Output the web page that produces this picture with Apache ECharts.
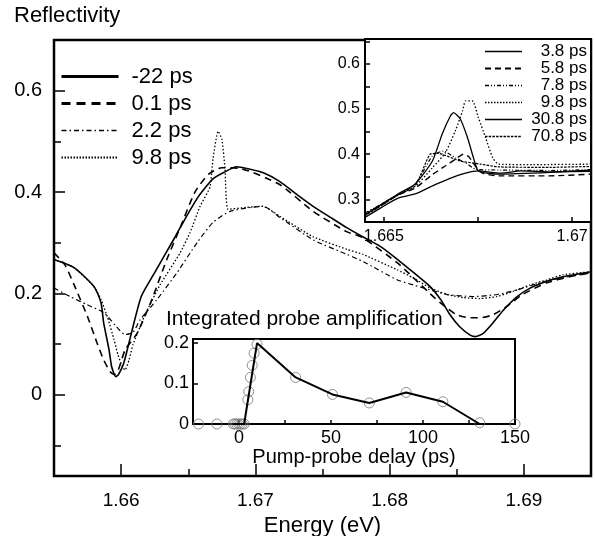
<!DOCTYPE html>
<html><head><meta charset="utf-8">
<script src="https://cdn.jsdelivr.net/npm/echarts@6/dist/echarts.min.js"></script>
<style>html,body{margin:0;padding:0;background:#fff}#c{width:595px;height:536px}</style>
</head><body><div id="c"></div>
<script>
// ---------- main panel: reflectivity spectra ----------
const energyM22 = [1.655,1.6565,1.658,1.6585,1.6587,1.6591,1.6593,1.6596,1.6598,1.6602,1.6607,1.6615,1.6625,1.6639,1.6644,1.6657,1.6668,1.6676,1.6686,1.6696,1.6706,1.6718,1.6731,1.6743,1.6756,1.6768,1.678,1.6793,1.6806,1.6817,1.683,1.6838,1.6845,1.6852,1.686,1.6864,1.687,1.6877,1.6885,1.6895,1.6905,1.6917,1.6929,1.695];
const reflM22   = [0.267,0.251,0.213,0.182,0.142,0.089,0.055,0.036,0.04,0.063,0.115,0.194,0.241,0.306,0.33,0.389,0.425,0.438,0.45,0.445,0.438,0.421,0.395,0.372,0.35,0.33,0.312,0.293,0.267,0.243,0.214,0.188,0.158,0.135,0.118,0.115,0.122,0.142,0.168,0.194,0.211,0.224,0.233,0.243];

const energy01 = [1.655,1.6558,1.6565,1.6575,1.6582,1.6587,1.6592,1.6595,1.6598,1.6603,1.6612,1.6622,1.6634,1.6644,1.6655,1.6665,1.6675,1.6688,1.6718,1.6743,1.6768,1.678,1.6806,1.6817,1.683,1.6838,1.685,1.686,1.6867,1.6877,1.6887,1.6899,1.6917,1.6934,1.695];
const refl01   = [0.28,0.257,0.217,0.154,0.103,0.069,0.045,0.04,0.05,0.089,0.122,0.182,0.267,0.33,0.40,0.435,0.448,0.447,0.415,0.362,0.322,0.31,0.26,0.233,0.2,0.181,0.158,0.152,0.152,0.158,0.174,0.198,0.221,0.233,0.241];

const energy22 = [1.655,1.65619,1.65746,1.65872,1.65954,1.66029,1.66088,1.66141,1.66267,1.66416,1.66565,1.66684,1.66811,1.67057,1.67183,1.67429,1.67683,1.67802,1.68055,1.68174,1.68301,1.68428,1.68621,1.688,1.68949,1.69172,1.695];
const refl22   = [0.211,0.194,0.178,0.162,0.138,0.119,0.123,0.148,0.188,0.241,0.30,0.34,0.362,0.372,0.35,0.306,0.277,0.263,0.227,0.217,0.207,0.198,0.194,0.198,0.207,0.225,0.241];

const energy98 = [1.655,1.6565,1.658,1.6585,1.659,1.65947,1.65977,1.66007,1.66029,1.66059,1.66088,1.66178,1.6629,1.66439,1.66513,1.66588,1.66662,1.66684,1.66722,1.66751,1.66774,1.66796,1.66938,1.67057,1.67183,1.67429,1.67683,1.67802,1.68055,1.68174,1.68301,1.68428,1.68547,1.68673,1.688,1.68919,1.69046,1.69172,1.69292,1.695];
const refl98   = [0.267,0.251,0.213,0.188,0.152,0.109,0.079,0.057,0.049,0.069,0.099,0.158,0.217,0.28,0.32,0.372,0.41,0.465,0.52,0.504,0.445,0.366,0.37,0.372,0.352,0.312,0.287,0.277,0.247,0.231,0.211,0.198,0.192,0.19,0.194,0.204,0.217,0.227,0.237,0.243];

// ---------- upper inset: spectra around the gain peak ----------
const insE38 = [1.6645,1.66495,1.66538,1.66583,1.66629,1.66671,1.66717,1.66751,1.6681,1.66863,1.66943,1.6705];
const insR38 = [0.26,0.283,0.303,0.312,0.33,0.345,0.358,0.363,0.358,0.363,0.361,0.362];
const insE58 = [1.6645,1.66495,1.66538,1.66583,1.66629,1.66663,1.6669,1.66711,1.66725,1.66743,1.66762,1.66805,1.66938,1.6705];
const insR58 = [0.265,0.288,0.31,0.325,0.355,0.374,0.389,0.4,0.395,0.374,0.358,0.352,0.352,0.356];
const insE78 = [1.6645,1.66495,1.66538,1.66583,1.66629,1.66658,1.6669,1.66717,1.66743,1.6681,1.66943,1.6705];
const insR78 = [0.27,0.29,0.312,0.333,0.396,0.407,0.392,0.381,0.367,0.365,0.364,0.366];
const insE98 = [1.6645,1.66495,1.66538,1.66583,1.66629,1.66663,1.6669,1.66709,1.66717,1.66735,1.66751,1.6677,1.66789,1.66805,1.66895,1.6705];
const insR98 = [0.268,0.29,0.31,0.329,0.37,0.403,0.452,0.496,0.518,0.518,0.481,0.437,0.392,0.378,0.377,0.378];
const insE308 = [1.6645,1.66495,1.66538,1.66583,1.66629,1.66655,1.66677,1.66685,1.66703,1.66722,1.66738,1.66751,1.66805,1.66943,1.6705];
const insR308 = [0.266,0.29,0.312,0.334,0.385,0.445,0.485,0.492,0.478,0.437,0.392,0.363,0.356,0.36,0.365];
const insE708 = [1.6645,1.66495,1.66538,1.66583,1.66623,1.66642,1.66703,1.66757,1.66805,1.66943,1.6705];
const insR708 = [0.264,0.287,0.31,0.33,0.4,0.402,0.385,0.378,0.372,0.371,0.373];

// ---------- lower inset: integrated probe amplification ----------
const delayCircles = [-22,-12,-3.2,-2.2,-1.2,-0.2,0.8,1.8,2.8,4.8,5.3,6.2,7.2,8.2,9.8,30.8,50.8,70.8,90.8,110.8,130.8,150];
const ampCircles   = [0,0,0,0,0,0,0,0,0,0.06,0.08,0.115,0.145,0.175,0.197,0.115,0.073,0.052,0.078,0.055,0.003,0];
const delayLine = [-3.2,-2.2,-1.2,-0.2,0.8,1.8,2.8,3.8,9.8,30.8,50.8,70.8,90.8,110.8,130.8];
const ampLine   = [0,0,0,0,0,0,0,0,0.2,0.115,0.073,0.052,0.078,0.055,0];

// ---------- tick values ----------
const mainXMajor = [1.66,1.67,1.68,1.69];
const mainXMinor = [1.665,1.675,1.685];
const mainYMajor = [0,0.2,0.4,0.6];
const mainYMinor = [-0.1,0.1,0.3,0.5];
const insXTicks  = [1.665,1.6675,1.67];
const insXLabels = [1.665,1.67];

const zip = (a,b) => a.map((v,i)=>[v,b[i]]);
const FONT = "'Liberation Sans', Arial, Helvetica, sans-serif";
const K = '#000';

const chart = echarts.init(document.getElementById('c'), null, {renderer:'canvas'});

const tick = (len, extra) => Object.assign({show:true, inside:true, length:len, lineStyle:{color:K, width:1.5}}, extra||{});
const noLine = {show:false, onZero:false};
const hideSym = {opacity:0, color:'rgba(0,0,0,0)', borderWidth:0};
const lineSeries = (name, xi, yi, zl, x, y, w, type, smooth) => ({
  name, type:'line', xAxisIndex:xi, yAxisIndex:yi, zlevel:zl, data:zip(x,y),
  symbol:'none', showSymbol:false, smooth:smooth, lineStyle:{color:K, width:w, type:type}, itemStyle:{color:K}
});

const option = {
  animation:false,
  textStyle:{fontFamily:FONT, color:K},
  title:[
    {text:'Reflectivity', left:14, top:5, padding:0, textStyle:{fontFamily:FONT, fontSize:22, fontWeight:'normal', color:K}},
    {text:'Integrated probe amplification', left:166, top:309, padding:0, zlevel:1, textStyle:{fontFamily:FONT, fontSize:21, fontWeight:'normal', color:K}}
  ],
  grid:[
    {left:54, top:40, width:537, height:436, outerBoundsMode:'none', containLabel:false, show:true, borderColor:K, borderWidth:2.5, backgroundColor:'transparent'},
    {left:365, top:39, width:226, height:183, outerBoundsMode:'none', containLabel:false, show:true, borderColor:K, borderWidth:2, backgroundColor:'#fff', zlevel:1},
    {left:193, top:339, width:322, height:85, outerBoundsMode:'none', containLabel:false, show:true, borderColor:K, borderWidth:2, backgroundColor:'#fff', zlevel:1}
  ],
  legend:[
    {left:60, top:63, orient:'vertical', itemWidth:57, itemHeight:14, itemGap:0, selectedMode:false, padding:0,
     formatter:'{a|{name}}',
     textStyle:{fontFamily:FONT, fontSize:22, color:K, lineHeight:27, rich:{a:{fontFamily:FONT, fontSize:22, color:K, lineHeight:27, padding:[0,0,0,8]}}},
     data:[
       {name:'-22 ps', itemStyle:hideSym, lineStyle:{width:3, type:'solid', color:K}},
       {name:'0.1 ps', itemStyle:hideSym, lineStyle:{width:3, type:[9,6], color:K}},
       {name:'2.2 ps', itemStyle:hideSym, lineStyle:{width:1.5, type:[5,3,1.5,3], color:K}},
       {name:'9.8 ps', itemStyle:hideSym, lineStyle:{width:2, type:[1.5,1.5], color:K}}
     ]},
    {left:484, top:43, orient:'vertical', itemWidth:37, itemHeight:10, itemGap:0, selectedMode:false, zlevel:1, padding:0,
     formatter:'{a|{name}}',
     textStyle:{fontFamily:FONT, fontSize:17, color:K, lineHeight:17, rich:{a:{fontFamily:FONT, fontSize:17, color:K, lineHeight:17, width:60, align:'right'}}},
     data:[
       {name:'3.8 ps', itemStyle:hideSym, lineStyle:{width:1.5, type:'solid', color:K}},
       {name:'5.8 ps', itemStyle:hideSym, lineStyle:{width:2, type:[6,4], color:K}},
       {name:'7.8 ps', itemStyle:hideSym, lineStyle:{width:1.5, type:[4,2,1,2,1,2], color:K}},
       {name:'9.8 ps', itemStyle:hideSym, lineStyle:{width:1.5, type:[1.5,1.5], color:K}},
       {name:'30.8 ps', itemStyle:hideSym, lineStyle:{width:1.5, type:'solid', color:K}},
       {name:'70.8 ps', itemStyle:hideSym, lineStyle:{width:1.3, type:[2.5,1.2], color:K}}
     ]}
  ],
  xAxis:[
    {type:'value', gridIndex:0, min:1.655, max:1.695, position:'bottom',
     axisLine:noLine, splitLine:{show:false},
     axisTick:tick(12,{customValues:mainXMajor}),
     axisLabel:{customValues:mainXMajor, fontFamily:FONT, fontSize:19, color:K, margin:15, formatter:v=>v.toFixed(2)},
     name:'Energy (eV)', nameLocation:'middle', nameGap:36, nameTextStyle:{fontFamily:FONT, fontSize:22, color:K}},
    {type:'value', gridIndex:0, min:1.655, max:1.695, position:'bottom',
     axisLine:noLine, splitLine:{show:false}, axisLabel:{show:false},
     axisTick:tick(7,{customValues:mainXMinor})},
    {type:'value', gridIndex:1, min:1.6645, max:1.6705, position:'bottom', zlevel:1,
     axisLine:noLine, splitLine:{show:false},
     axisTick:tick(5,{customValues:insXTicks}),
     axisLabel:{customValues:insXLabels, fontFamily:FONT, fontSize:16, color:K, margin:7, formatter:v=>String(+v.toFixed(4))}},
    {type:'value', gridIndex:2, min:-25, max:150, interval:25, position:'bottom', zlevel:1,
     axisLine:noLine, splitLine:{show:false},
     axisTick:tick(4),
     axisLabel:{fontFamily:FONT, fontSize:18, color:K, margin:5, formatter:v=>(v>=0 && v%50===0)?String(v):''},
     name:'Pump-probe delay (ps)', nameLocation:'middle', nameGap:14, nameTextStyle:{fontFamily:FONT, fontSize:20, color:K}}
  ],
  yAxis:[
    {type:'value', gridIndex:0, min:-0.16, max:0.7, position:'left',
     axisLine:noLine, splitLine:{show:false},
     axisTick:tick(11,{customValues:mainYMajor}),
     axisLabel:{customValues:mainYMajor, fontFamily:FONT, fontSize:20, color:K, margin:12, formatter:v=>v===0?'0':v.toFixed(1)}},
    {type:'value', gridIndex:0, min:-0.16, max:0.7, position:'left',
     axisLine:noLine, splitLine:{show:false}, axisLabel:{show:false},
     axisTick:tick(7,{customValues:mainYMinor})},
    {type:'value', gridIndex:1, min:0.25, max:0.655, interval:0.05, position:'left', zlevel:1,
     axisLine:noLine, splitLine:{show:false},
     axisTick:tick(5),
     axisLabel:{fontFamily:FONT, fontSize:16, color:K, margin:5, formatter:v=>{const t=Math.round(v*100);return t%10===0?v.toFixed(1):'';}}},
    {type:'value', gridIndex:2, min:0, max:0.21, interval:0.1, position:'left', zlevel:1,
     axisLine:noLine, splitLine:{show:false},
     axisTick:tick(5),
     axisLabel:{fontFamily:FONT, fontSize:18, color:K, margin:4, formatter:v=>v===0?'0':v.toFixed(1)}}
  ],
  series:[
    lineSeries('-22 ps', 0, 0, 0, energyM22, reflM22, 1.6, 'solid', 0.2),
    lineSeries('0.1 ps', 0, 0, 0, energy01, refl01, 1.6, [7,5], 0.2),
    lineSeries('2.2 ps', 0, 0, 0, energy22, refl22, 1.2, [5,3,1.5,3], 0.2),
    lineSeries('9.8 ps', 0, 0, 0, energy98, refl98, 1.3, [1.5,2], 0.15),

    lineSeries('3.8 ps', 2, 2, 1, insE38, insR38, 1.3, 'solid', 0.2),
    lineSeries('5.8 ps', 2, 2, 1, insE58, insR58, 1.4, [6,4], 0.2),
    lineSeries('7.8 ps', 2, 2, 1, insE78, insR78, 1.2, [4,2,1,2,1,2], 0.2),
    lineSeries('9.8 ps', 2, 2, 1, insE98, insR98, 1.3, [1.5,2], 0.2),
    lineSeries('30.8 ps', 2, 2, 1, insE308, insR308, 1.3, 'solid', 0.2),
    lineSeries('70.8 ps', 2, 2, 1, insE708, insR708, 1.2, [2.5,1.2], 0.2),

    {name:'amplification points', type:'scatter', xAxisIndex:3, yAxisIndex:3, zlevel:1, data:zip(delayCircles,ampCircles), symbol:'circle', symbolSize:10, itemStyle:{color:'rgba(0,0,0,0)', borderColor:'#777', borderWidth:1}},
    lineSeries('amplification', 3, 3, 1, delayLine, ampLine, 2, 'solid', false)
  ]
};
chart.setOption(option);
</script>
</body></html>
